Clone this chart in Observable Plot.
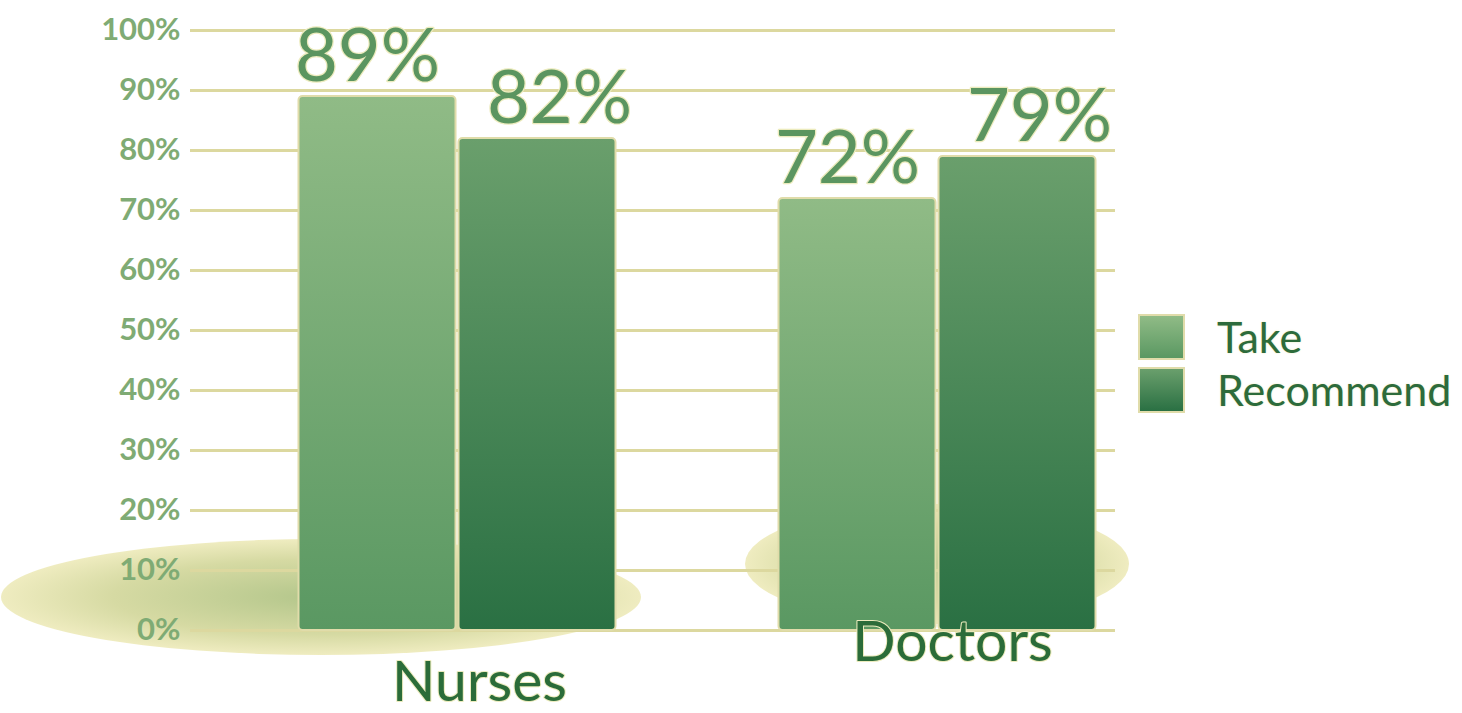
<!DOCTYPE html>
<html>
<head>
<meta charset="utf-8">
<script src="https://cdn.jsdelivr.net/npm/d3@7"></script>
<script src="https://cdn.jsdelivr.net/npm/@observablehq/plot@0.6"></script>
<style>
  html, body { margin: 0; padding: 0; background: #ffffff; }
  #wrap { position: relative; width: 1462px; height: 713px; font-family: Lato, "Open Sans", sans-serif; }
  #legend { position: absolute; left: 1138px; top: 310px; }
  .item { display: flex; align-items: center; height: 53px; }
  .sw { width: 47px; height: 46px; border: 2px solid #e0dcaa; box-sizing: border-box; margin-right: 32px; }
  .lab { font-size: 43px; color: #2d6b3b; line-height: 1; text-shadow: 0 0 2px #e9e6b4; }
</style>
</head>
<body>
<div id="wrap"><div id="chart"></div><div id="legend"></div></div>
<script>
const groups = ["Nurses", "Doctors"];
const series = ["Take", "Recommend"];
const takeValues = [89, 72];
const recommendValues = [82, 79];
const yTicks = [0, 10, 20, 30, 40, 50, 60, 70, 80, 90, 100];
const seriesColors = {Take: ["#90bb86", "#5a9862"], Recommend: ["#6a9f6c", "#2a7043"]};

const slots = ["Nurses|Take", "Nurses|Recommend", "gap", "Doctors|Take", "Doctors|Recommend"];
const data = [];
groups.forEach((g, i) => {
  data.push({group: g, series: "Take", slot: g + "|Take", value: takeValues[i]});
  data.push({group: g, series: "Recommend", slot: g + "|Recommend", value: recommendValues[i]});
});
const gradId = s => s === "Take" ? "url(#gTake)" : "url(#gRec)";
const valueText = {fontSize: 74, fill: "#5b9560", stroke: "#ecebbd", strokeWidth: 2.5, paintOrder: "stroke", lineAnchor: "bottom", dy: -16};
const groupText = {lineAnchor: "top", fontSize: 57, fill: "#2b6c39", stroke: "#ecebbd", strokeWidth: 2, paintOrder: "stroke"};

const chart = Plot.plot({
  width: 1130,
  height: 713,
  marginLeft: 190,
  marginRight: 15,
  marginTop: 30,
  marginBottom: 83,
  style: {background: "transparent", fontFamily: "Lato, 'Open Sans', sans-serif", overflow: "visible"},
  x: {domain: slots, range: [297, 1097], padding: 0, axis: null},
  y: {domain: [0, 100], ticks: yTicks, tickFormat: d => d + "%", label: null},
  color: {type: "identity"},
  marks: [
    Plot.ruleY(yTicks, {stroke: "#dcd89f", strokeWidth: 3}),
    Plot.axisY({ticks: yTicks, tickFormat: d => d + "%", tickSize: 0, tickPadding: 10, fontSize: 31, fontWeight: "bold", fill: "#7fab74", stroke: "#eceab8", strokeWidth: 1.5, paintOrder: "stroke", label: null}),
    Plot.barY(data, {x: "slot", y: "value", fill: d => gradId(d.series), stroke: "#e0dcaa", strokeWidth: 2, insetLeft: 1.5, insetRight: 1.5, rx: 4}),
    Plot.text(data.filter(d => d.series === "Take"), {x: "slot", y: "value", text: d => d.value + "%", dx: -10, ...valueText}),
    Plot.text(data.filter(d => d.series === "Recommend"), {x: "slot", y: "value", text: d => d.value + "%", dx: 22, ...valueText}),
    Plot.text(data.filter(d => d.group === "Nurses" && d.series === "Recommend"), {x: "slot", y: 0, text: "group", dx: -58, dy: 30, ...groupText}),
    Plot.text(data.filter(d => d.group === "Doctors" && d.series === "Recommend"), {x: "slot", y: 0, text: "group", dx: -65, dy: -10, ...groupText})
  ]
});

// gradients and ground shadows
const svg = d3.select(chart);
const defs = svg.insert("defs", ":first-child");
function grad(id, c) {
  const g = defs.append("linearGradient").attr("id", id).attr("x1", 0).attr("y1", 0).attr("x2", 0).attr("y2", 1);
  g.append("stop").attr("offset", "0%").attr("stop-color", c[0]);
  g.append("stop").attr("offset", "100%").attr("stop-color", c[1]);
}
grad("gTake", seriesColors.Take);
grad("gRec", seriesColors.Recommend);
const rg = defs.append("radialGradient").attr("id", "gShadow");
rg.append("stop").attr("offset", "0%").attr("stop-color", "#b3c68b");
rg.append("stop").attr("offset", "65%").attr("stop-color", "#d6daa3");
rg.append("stop").attr("offset", "100%").attr("stop-color", "#efecc0");
const xs = chart.scale("x"), ys = chart.scale("y");
const bw = xs.bandwidth || ((xs.range[1] - xs.range[0]) / slots.length);
const sx = v => xs.apply(v);
const shadows = svg.insert("g", "g");
shadows.append("ellipse")
  .attr("cx", sx("Nurses|Take") + bw * 0.15).attr("cy", ys.apply(5.5))
  .attr("rx", bw * 2.0).attr("ry", 58).attr("fill", "url(#gShadow)");
shadows.append("ellipse")
  .attr("cx", sx("Doctors|Take") + bw * 1.0).attr("cy", ys.apply(11))
  .attr("rx", bw * 1.2).attr("ry", 60).attr("fill", "url(#gShadow)");
chart.insertBefore(shadows.node(), defs.node().nextSibling);

document.getElementById("chart").appendChild(chart);

// legend
const legend = d3.select("#legend");
series.forEach(s => {
  const it = legend.append("div").attr("class", "item");
  it.append("div").attr("class", "sw").style("background", `linear-gradient(${seriesColors[s][0]}, ${seriesColors[s][1]})`);
  it.append("div").attr("class", "lab").text(s);
});
</script>
</body>
</html>
